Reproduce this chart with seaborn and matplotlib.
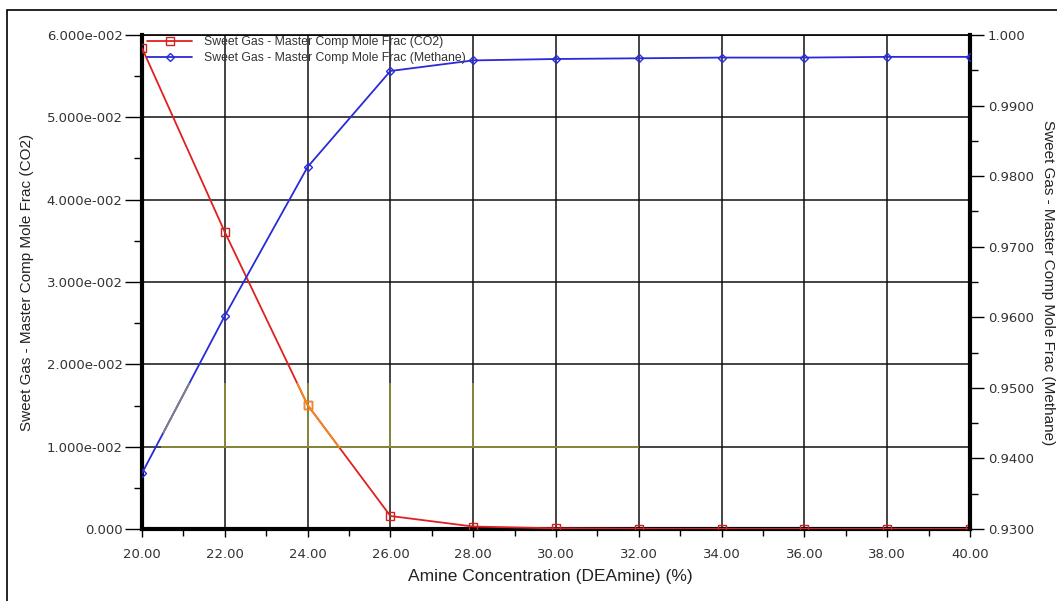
import matplotlib
matplotlib.use("Agg")
import matplotlib.pyplot as plt
import matplotlib.ticker as mticker
from matplotlib.patches import Rectangle
import seaborn as sns
import pandas as pd

# Amine concentration sweep (DEAmine, %)
amine_pct = [20, 22, 24, 26, 28, 30, 32, 34, 36, 38, 40]
# Sweet gas mole fraction of CO2
co2_frac = [0.05842, 0.03607, 0.01506, 0.00158, 0.00030, 0.00008,
            0.00003, 0.00002, 0.00002, 0.00002, 0.00002]
# Sweet gas mole fraction of methane
methane_frac = [0.9379, 0.9602, 0.9813, 0.9949, 0.9964, 0.9966,
                0.9967, 0.9968, 0.9968, 0.9969, 0.9969]

co2_name = "Sweet Gas - Master Comp Mole Frac (CO2)"
ch4_name = "Sweet Gas - Master Comp Mole Frac (Methane)"
x_name = "Amine Concentration (DEAmine) (%)"

df = pd.DataFrame({"x": amine_pct, "co2": co2_frac, "ch4": methane_frac})

sns.set_theme(style="white")
plt.rcParams["font.family"] = ["DejaVu Sans"]

W, H = 1057, 601
fig = plt.figure(figsize=(W / 100, H / 100), dpi=100)
L, R, T, B = 142, 970, 35, 529
ax = fig.add_axes([L / W, 1 - B / H, (R - L) / W, (B - T) / H])
ax2 = ax.twinx()

# outer frame of the chart panel
fig.patches.append(Rectangle((7 / W, -0.2), 2.0, 1.2 - 10 / H, transform=fig.transFigure,
                             fill=False, edgecolor="black", linewidth=1.2, zorder=0))

ax.set_xlim(20, 40)
ax.set_ylim(0, 0.06)
ax2.set_xlim(20, 40)
ax2.set_ylim(0.93, 1.0)

# grid
ax.xaxis.set_major_locator(mticker.MultipleLocator(2))
ax.xaxis.set_minor_locator(mticker.MultipleLocator(1))
ax.yaxis.set_major_locator(mticker.MultipleLocator(0.01))
ax.yaxis.set_minor_locator(mticker.MultipleLocator(0.005))
ax2.yaxis.set_major_locator(mticker.MultipleLocator(0.01))
ax2.yaxis.set_minor_locator(mticker.MultipleLocator(0.005))
ax.grid(True, which="major", color="#111111", linewidth=1.1, zorder=1)
ax.set_axisbelow(True)

ax.xaxis.set_major_formatter(mticker.FuncFormatter(lambda v, p: f"{v:.2f}"))


def sci_fmt(v, p):
    if abs(v) < 1e-12:
        return "0.000"
    m, e = f"{v:.3e}".split("e")
    sign = "-" if int(e) < 0 else "+"
    return f"{m}e{sign}{abs(int(e)):03d}"


ax.yaxis.set_major_formatter(mticker.FuncFormatter(sci_fmt))
ax2.yaxis.set_major_formatter(mticker.FuncFormatter(
    lambda v, p: "1.000" if v > 0.9995 else f"{v:.4f}"))

# highlighted band where the traces change tint
band = Rectangle((20.5, 0.0098), 8.6, 0.0079, transform=ax.transData)
ax.hlines(0.01, 20.45, 32, color="#8c8c3c", linewidth=1.3, zorder=2)
ax.vlines([22, 24, 26, 28], 0.01, 0.0177, color="#8c8c3c", linewidth=1.3, zorder=2)

sns.lineplot(data=df, x="x", y="co2", ax=ax, color="#e02020", linewidth=1.3,
             marker="s", markersize=6, markerfacecolor="none",
             markeredgecolor="#d02020", markeredgewidth=1.0,
             legend=False, zorder=4)
co2_line = ax.lines[-1]
sns.lineplot(data=df, x="x", y="co2", ax=ax, color="#f08a20", linewidth=1.3,
             marker="s", markersize=6, markerfacecolor="none",
             markeredgecolor="#f08a20", markeredgewidth=1.0, legend=False,
             zorder=5)
ax.lines[-1].set_clip_path(band)

sns.lineplot(data=df, x="x", y="ch4", ax=ax2, color="#2a2ad8", linewidth=1.3,
             marker="D", markersize=4.5, markerfacecolor="none",
             markeredgecolor="#2a2ad8", markeredgewidth=1.0,
             legend=False, zorder=4)
ch4_line = ax2.lines[-1]
band2 = Rectangle((20.5, 0.0098), 8.6, 0.0079, transform=ax.transData)
sns.lineplot(data=df, x="x", y="ch4", ax=ax2, color="#808080", linewidth=1.3,
             legend=False, zorder=5)
ax2.lines[-1].set_clip_path(band2)
ax2.set_ylabel("")

# spines
for s in ("left", "bottom"):
    ax.spines[s].set_linewidth(3.0)
    ax.spines[s].set_color("black")
ax.spines["top"].set_linewidth(1.2)
ax.spines["top"].set_color("black")
ax.spines["right"].set_visible(False)
ax2.spines["right"].set_linewidth(3.0)
ax2.spines["right"].set_color("black")
for s in ("left", "bottom", "top"):
    ax2.spines[s].set_visible(False)

tick_color = "#333333"
ax.tick_params(axis="y", which="major", direction="out", length=12, width=1.0,
               color="black", labelsize=9.5, labelcolor=tick_color, pad=2, left=True)
ax.tick_params(axis="y", which="minor", direction="out", length=6, width=1.0,
               color="black", left=True)
ax.tick_params(axis="x", which="major", direction="out", length=6, width=1.0,
               color="black", labelsize=9.5, labelcolor=tick_color, pad=8, bottom=True)
ax.tick_params(axis="x", which="minor", direction="out", length=5, width=1.0,
               color="black", bottom=True)
ax2.tick_params(axis="y", which="major", direction="out", length=10, width=1.0,
                color="black", labelsize=9.5, labelcolor=tick_color, pad=3, right=True)
ax2.tick_params(axis="y", which="minor", direction="out", length=6, width=1.0,
                color="black", right=True)

lab_font = dict(family=["Liberation Sans"], color="#222222")
ax.set_xlabel("")
ax.set_ylabel("")
fig.text(550 / W, 1 - 577 / H, x_name, ha="center", va="center",
         fontsize=12.5, **lab_font)
fig.text(27 / W, 1 - 282 / H, co2_name, rotation=90, ha="center", va="center",
         fontsize=11, **lab_font)
fig.text(1048 / W, 1 - 283 / H, ch4_name, rotation=270, ha="center", va="center",
         fontsize=11, **lab_font)

# legend
leg = ax2.legend([co2_line, ch4_line], [co2_name, ch4_name], loc="upper left",
                 frameon=False, bbox_to_anchor=(0.0, 1.007), borderaxespad=0.0,
                 handlelength=3.7, handletextpad=1.0, labelspacing=0.3,
                 prop={"family": "Liberation Sans", "size": 8.8})
for t in leg.get_texts():
    t.set_color("#333333")

fig.savefig("out.png", dpi=100, facecolor="white")
